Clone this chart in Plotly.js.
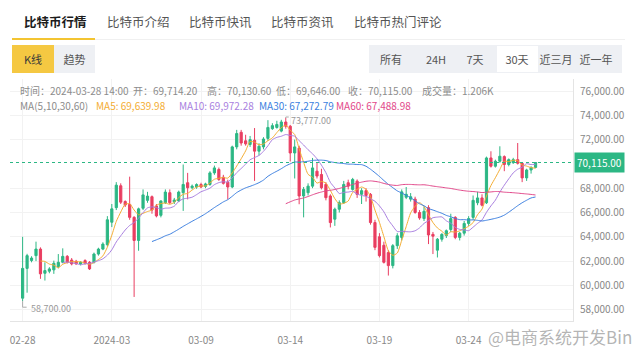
<!DOCTYPE html>
<html><head><meta charset="utf-8">
<script src="https://cdn.plot.ly/plotly-3.0.1.min.js"></script>
<style>
html,body{margin:0;padding:0;background:#fff;}
#wrap{position:relative;width:640px;height:361px;overflow:hidden;font-family:"Noto Sans CJK SC","Noto Sans",sans-serif;background:#fff;}
#chart{position:absolute;left:0;top:0;width:640px;height:361px;}
.abs{position:absolute;white-space:nowrap;}
.tab{font-size:12.5px;line-height:16px;top:14px;color:#555;}
.tab.on{color:#1c1c1c;font-weight:bold;}
.btn{font-size:11px;line-height:28px;top:45px;height:28px;text-align:center;color:#555;}
.info{font-size:10px;line-height:11px;height:11px;color:#8c8c8c;}
</style></head><body>
<div id="wrap">
<div id="chart"></div>
<div class="abs tab on" style="left:24px">比特币行情</div>
<div class="abs tab" style="left:107px">比特币介绍</div>
<div class="abs tab" style="left:189px">比特币快讯</div>
<div class="abs tab" style="left:271px">比特币资讯</div>
<div class="abs tab" style="left:354px">比特币热门评论</div>
<div class="abs" style="left:12px;top:38px;width:83px;height:2px;background:#f3c431"></div>
<div class="abs" style="left:95px;top:39px;width:530px;height:1px;background:#f0f0f0"></div>
<div class="abs btn" style="left:12px;width:42px;background:#f5c842;color:#3a3a3a">K线</div>
<div class="abs btn" style="left:54px;width:41px;background:#eef0f4">趋势</div>
<div class="abs" style="left:369px;top:45px;width:253px;height:28px;background:#eef0f4"></div>
<div class="abs" style="left:497px;top:46px;width:41px;height:26px;background:#ffffff"></div>
<div class="abs btn" style="left:375px;width:32px">所有</div>
<div class="abs btn" style="left:420px;width:32px">24H</div>
<div class="abs btn" style="left:459px;width:32px">7天</div>
<div class="abs btn" style="left:500px;width:34px">30天</div>
<div class="abs btn" style="left:538px;width:36px">近三月</div>
<div class="abs btn" style="left:578px;width:36px">近一年</div>
<div id="info1"></div>
<div id="info2"></div>
<div class="abs" style="left:488px;top:326px;font-size:17px;line-height:21px;color:rgba(105,105,105,0.5)">@电商系统开发Bin</div>
</div>
<script>
// ---- data ----
const openP = [58950,61400,62050,62450,62990,61000,61170,61280,61550,61900,
62390,62090,61980,61770,62040,61900,61900,62580,62990,63350,
65200,66400,68200,66900,66670,65600,63700,66350,67000,67300,
66540,65770,66810,67630,66880,66950,67630,68450,68040,68100,
68300,68150,68310,69260,69540,68900,68500,68100,71400,72600,
71900,71600,71950,71050,71400,72100,72900,73000,72700,73450,
73100,70900,71300,67360,67630,68170,69400,69130,68310,67360,
65450,66270,66810,68450,67900,68580,67500,67800,67490,65170,
64000,63300,62700,61630,63270,63950,67250,67100,67100,66000,
65500,66400,64200,62900,63800,64100,64600,65600,63950,64300,
65100,65600,66800,67200,66800,70490,69810,70220,70600,69950,
70100,70350,70050,68850,69500,69714.2];
const highP = [64000,62600,62400,63600,63130,61900,61500,62040,62580,63050,
62500,62250,62100,62000,62150,62000,62700,63100,63550,65700,
66700,68500,68400,67000,68950,65700,66400,67900,67700,67400,
66700,67000,67900,67900,67200,67800,69950,69260,68300,68400,
68450,68450,69400,69860,69700,69100,68700,71500,72800,72800,
72400,72300,72950,71700,72200,73600,73350,73550,73630,73777,
73200,72000,71500,68100,68400,70490,70100,69600,68500,67500,
66400,67000,68600,68700,68850,68720,68000,68000,67600,65400,
64300,63600,62900,63400,64300,67900,68100,67600,67300,66200,
66500,66600,64400,63900,64300,64600,65900,65700,64400,65300,
65700,67400,67700,67500,70600,71040,70350,71450,70700,70450,
70500,71720,70150,69600,69800,70130.6];
const lowP = [58700,59400,61900,62000,60540,60400,61000,60950,61400,61820,
61800,61650,61700,61650,61700,61270,61800,62450,62900,63200,
64800,66200,66700,66450,65400,59050,62850,66200,66800,65900,
65600,65600,66700,66700,66700,66850,66130,67080,67900,67950,
68000,68000,68200,69100,68600,68300,67080,68000,71200,71500,
71500,71400,68600,70700,71200,71900,72800,72900,72600,72900,
70200,68800,66680,65600,67400,68000,68800,67900,67000,64770,
64900,66000,66700,67900,67800,67200,66700,66900,65000,62900,
62300,61800,60810,61400,63000,63700,67100,66900,65900,65400,
65300,63400,62580,62300,63600,63900,64400,63800,63700,64100,
64900,65400,66600,66500,66700,69700,69700,70100,69400,69800,
70000,69950,68500,68600,69200,69646];
const closeP = [61400,62450,62250,62990,60950,61220,61360,61820,61900,62390,
61900,61770,61770,61900,61820,61360,62580,62990,63400,65400,
66300,68250,66850,66620,65600,63700,66300,67450,67350,66200,
65720,66950,67680,66810,67030,67680,68310,68040,68170,68300,
68100,68350,69260,69670,68720,68400,68100,71400,72500,71720,
71650,72000,71050,71450,72050,73000,73150,73250,73450,73100,
70900,71400,67360,67900,68170,69670,69000,68040,67220,65170,
66270,66810,68310,68170,68720,67490,67800,67400,65170,63130,
62450,61900,61630,63270,64080,67700,67500,67300,66000,65550,
66100,64150,64050,63800,64200,64500,65500,63950,64300,65100,
65500,67000,67200,66600,70490,69810,70220,70630,69950,70350,
70350,70050,68850,69500,69714.2,70115];
const tickIndex = [0,20,40,60,80,100];
const tickLabels = ['02-28','2024-03','03-09','03-14','03-19','03-24'];
const priceTicks = [58000,60000,62000,64000,66000,68000,72000,74000,76000];
const maPeriods = [5,10,30,60];
const maNames = ['MA5','MA10','MA30','MA60'];
const maShown = ['69,639.98','69,972.28','67,272.79','67,488.98'];
const lastTime = '2024-03-28 14:00';
const lastVolume = '1.206K';

// ---- styles ----
const UP='#2cb784', DOWN='#e93e61';
const maColors=['#f4ad33','#a97fe0','#3c7fe0','#e2488a'];

const idx = closeP.map((_,i)=>i);
function sma(arr,n){return arr.map((_,i)=>{if(i<n-1)return null;let s=0;for(let k=i-n+1;k<=i;k++)s+=arr[k];return s/n;});}
const fmt = v => v.toLocaleString('en-US',{minimumFractionDigits:2,maximumFractionDigits:2});

const traces=[{
  type:'candlestick', x:idx, open:openP, high:highP, low:lowP, close:closeP,
  increasing:{line:{color:UP,width:1},fillcolor:UP},
  decreasing:{line:{color:DOWN,width:1},fillcolor:DOWN},
  whiskerwidth:0, hoverinfo:'skip', showlegend:false
}];
maPeriods.forEach((p,k)=>traces.push({type:'scatter',mode:'lines',x:idx,y:sma(closeP,p),
  line:{color:maColors[k],width:1,shape:'spline',smoothing:0.6},hoverinfo:'skip',showlegend:false}));

const last = closeP.length-1;
let hiI=0, loI=0;
highP.forEach((v,i)=>{if(v>highP[hiI])hiI=i;});
lowP.forEach((v,i)=>{if(v<lowP[loI])loI=i;});

const layout={
  width:640,height:361,margin:{l:10,r:67,t:79,b:40},
  paper_bgcolor:'rgba(0,0,0,0)',plot_bgcolor:'#fff',
  font:{family:'"Noto Sans CJK SC","Noto Sans",sans-serif',size:10,color:'#888'},
  showlegend:false,
  xaxis:{range:[-2.83,123.4],tickmode:'array',tickvals:tickIndex,ticktext:tickLabels,
    showgrid:true,gridcolor:'#f2f2f2',showline:true,linecolor:'#e4e4e4',zeroline:false,
    ticks:'outside',ticklen:10,tickcolor:'rgba(0,0,0,0)',tickfont:{size:10,color:'#888'},
    rangeslider:{visible:false},fixedrange:true},
  yaxis:{side:'right',range:[57070,76988],tickmode:'array',tickvals:priceTicks,tickformat:',.2f',
    showgrid:true,gridcolor:'#f2f2f2',showline:true,linecolor:'#e4e4e4',zeroline:false,
    ticks:'outside',ticklen:4,tickcolor:'rgba(0,0,0,0)',tickfont:{size:10,color:'#888'},fixedrange:true},
  shapes:[
    {type:'line',xref:'paper',x0:0,x1:1,yref:'y',y0:closeP[last],y1:closeP[last],line:{color:UP,width:1,dash:'3px,3px'}},
    {type:'path',xref:'x',yref:'y',xsizemode:'pixel',ysizemode:'pixel',xanchor:hiI,yanchor:highP[hiI],path:'M0,0L0,1L3,1',line:{color:'#aaa',width:1}},
    {type:'path',xref:'x',yref:'y',xsizemode:'pixel',ysizemode:'pixel',xanchor:loI,yanchor:lowP[loI],path:'M0,0L0,-6L4,-6',line:{color:'#aaa',width:1}}
  ],
  annotations:[
    {xref:'paper',x:1,yref:'y',y:closeP[last],xanchor:'left',yanchor:'middle',xshift:1,showarrow:false,
      text:fmt(closeP[last]),bgcolor:UP,borderpad:2,font:{size:10,color:'#fff'}},
    {xref:'x',x:hiI,yref:'y',y:highP[hiI],xanchor:'left',yanchor:'middle',xshift:4,yshift:-2,showarrow:false,
      text:fmt(highP[hiI]),borderpad:0,font:{size:9,color:'#999'}},
    {xref:'x',x:loI,yref:'y',y:lowP[loI],xanchor:'left',yanchor:'middle',xshift:6,yshift:-7,showarrow:false,
      text:fmt(lowP[loI]),font:{size:9,color:'#999'}}
  ]
};
Plotly.newPlot('chart',traces,layout,{displayModeBar:false,staticPlot:true});

// info lines
const info1=[['时间：'+lastTime,20],['开：'+fmt(openP[last]),133],['高：'+fmt(highP[last]),207],
  ['低：'+fmt(lowP[last]),276],['收：'+fmt(closeP[last]),348],['成交量：'+lastVolume,422]];
const d1=document.getElementById('info1');
info1.forEach(([t,x])=>{const s=document.createElement('div');s.className='abs info';s.style.left=x+'px';s.style.top='85px';s.textContent=t;d1.appendChild(s);});
const d2=document.getElementById('info2');
const info2=[['MA('+maPeriods.join(',')+')',20,'#8c8c8c']];
const xs=[96,179,259,336];
maNames.forEach((n,k)=>info2.push([n+': '+maShown[k],xs[k],maColors[k]]));
info2.forEach(([t,x,c])=>{const s=document.createElement('div');s.className='abs info';s.style.left=x+'px';s.style.top='100px';s.style.color=c;s.textContent=t;d2.appendChild(s);});
</script>
</body></html>
